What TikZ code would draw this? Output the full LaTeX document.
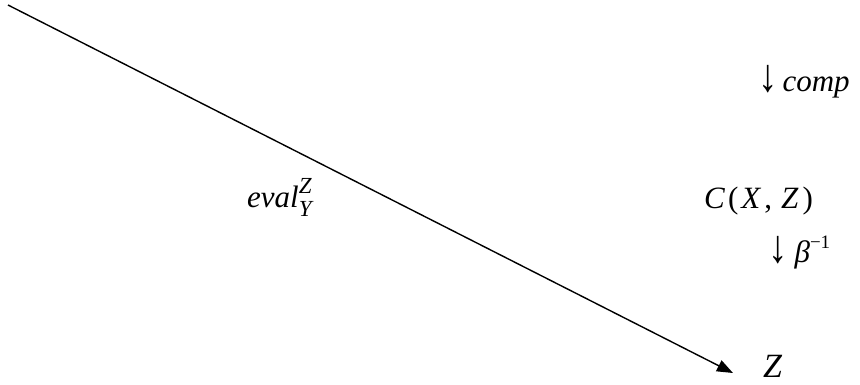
\documentclass[tikz,border=0pt]{standalone}
\usepackage{fontspec}
\usepackage{graphicx}
\setmainfont{Liberation Serif}
\usetikzlibrary{arrows.meta}
\newcommand{\dnarr}{\scalebox{1.25}[1.5]{↓}}
\begin{document}
\begin{tikzpicture}[x=1pt,y=-1pt,
  lbl/.style={anchor=base west,inner sep=0pt,font=\fontsize{31}{36}\selectfont},
  arr/.style={line width=1.4pt,-{Triangle[length=16pt,width=12pt]}}]
\useasboundingbox (0,0) rectangle (860,384);
\coordinate (s) at (8,5);
\coordinate (e) at (733,373);
\draw[arr] (s) -- (e);
\node[lbl] (comp) at (758,91) {\dnarr\kern5pt\textit{comp}};
\node[lbl] (cxz) at (704,208) {\textit{C}\kern3pt(\kern3pt\textit{X}\kern3pt,\kern9pt\textit{Z}\kern4pt)};
\node[lbl] (beta) at (768,262) {\dnarr\kern7pt\textit{β}\raisebox{0.45em}{\fontsize{19}{22}\selectfont −1}};
\node[lbl,font=\fontsize{34}{38}\selectfont] (z) at (763,377) {\textit{Z}};
\node[lbl] (eval) at (247,207) {\textit{eval}\makebox[0pt][l]{\raisebox{0.42em}{\fontsize{23}{24}\selectfont\textit{Z}}}\raisebox{-0.3em}{\fontsize{23}{24}\selectfont\textit{Y}}};
\end{tikzpicture}
\end{document}
